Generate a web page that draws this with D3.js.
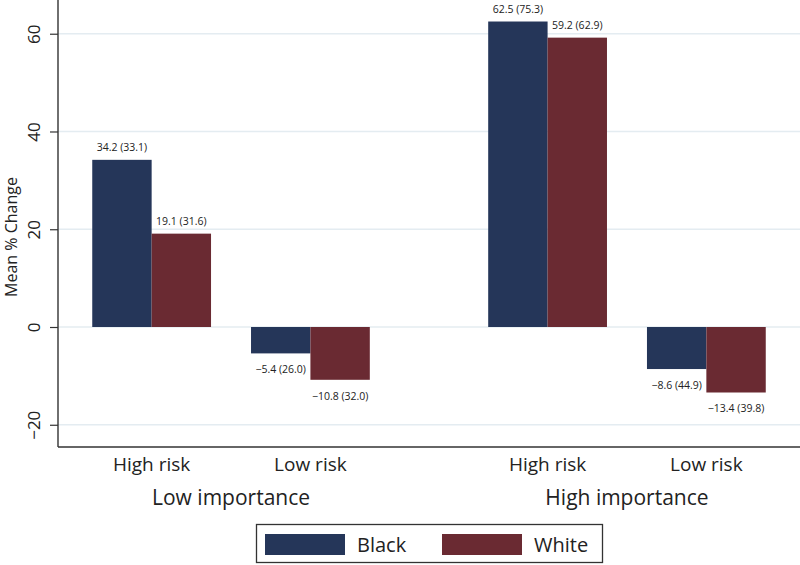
<!DOCTYPE html>
<html>
<head>
<meta charset="utf-8">
<script src="https://cdn.jsdelivr.net/npm/d3@7"></script>
<style>
  html, body { margin: 0; padding: 0; background: #fff; }
  svg { display: block; font-family: "Open Sans", "Noto Sans", sans-serif; }
</style>
</head>
<body>
<svg id="chart" width="800" height="565"></svg>
<script>
// ---- data ----
const groups = ["Low importance", "High importance"];
const risks = ["High risk", "Low risk"];
const races = ["Black", "White"];
const blackMeans = [34.2, -5.4, 62.5, -8.6];
const whiteMeans = [19.1, -10.8, 59.2, -13.4];
const blackSD = ["33.1", "26.0", "75.3", "44.9"];
const whiteSD = ["31.6", "32.0", "62.9", "39.8"];
const yTicks = [-20, 0, 20, 40, 60];
const colors = { Black: "#253659", White: "#6a2a32" };

// build records
const records = [];
groups.forEach((g, gi) => {
  risks.forEach((r, ri) => {
    const i = gi * risks.length + ri;
    records.push({ group: g, risk: r, race: "Black", value: blackMeans[i], sd: blackSD[i] });
    records.push({ group: g, risk: r, race: "White", value: whiteMeans[i], sd: whiteSD[i] });
  });
});

const svg = d3.select("#chart");
const pLeft = 58, pRight = 800, pTop = 0, pBottom = 447;

const y = d3.scaleLinear().domain([-24.55, 66.9]).range([pBottom, pTop]);
const xGroup = d3.scalePoint().domain(groups).range([pLeft, pRight]).padding(0.437);
const step = xGroup.step();
const xRisk = d3.scalePoint().domain(risks).range([-step * 0.2005, step * 0.2005]);
const xRace = d3.scaleBand().domain(races).range([-step * 0.15, step * 0.15]).padding(0);

// gridlines
svg.append("g")
  .selectAll("line")
  .data(yTicks)
  .join("line")
  .attr("x1", pLeft).attr("x2", pRight)
  .attr("y1", d => y(d)).attr("y2", d => y(d))
  .attr("stroke", "#e4ecf1").attr("stroke-width", 1.5);

// bars
const xPos = d => xGroup(d.group) + xRisk(d.risk) + xRace(d.race);
svg.append("g")
  .selectAll("rect")
  .data(records)
  .join("rect")
  .attr("x", d => xPos(d))
  .attr("width", xRace.bandwidth())
  .attr("y", d => y(Math.max(0, d.value)))
  .attr("height", d => Math.abs(y(d.value) - y(0)))
  .attr("fill", d => colors[d.race]);

// value labels
const fmt = v => (v < 0 ? "\u2212" : "") + Math.abs(v).toFixed(1);
svg.append("g")
  .selectAll("text")
  .data(records)
  .join("text")
  .attr("x", d => xPos(d) + xRace.bandwidth() / 2)
  .attr("y", d => d.value >= 0 ? y(d.value) - 9 : y(d.value) + 20)
  .attr("text-anchor", "middle")
  .attr("font-size", 10.5)
  .attr("fill", "#222")
  .text(d => `${fmt(d.value)} (${d.sd})`);

// y axis
const yAxis = d3.axisLeft(y).tickValues(yTicks).tickSize(8).tickPadding(10)
  .tickFormat(d => (d < 0 ? "\u2212" : "") + Math.abs(d));
const ya = svg.append("g").attr("transform", `translate(${pLeft},0)`).call(yAxis);
ya.select(".domain").attr("d", `M0,${pTop}V${pBottom}`).attr("stroke", "#333").attr("stroke-width", 1.4);
ya.selectAll(".tick line").attr("stroke", "#333").attr("stroke-width", 1.2);
ya.selectAll(".tick text")
  .attr("font-size", 17).attr("font-family", "'Open Sans', sans-serif").attr("fill", "#222")
  .attr("transform", "rotate(-90)")
  .attr("x", 0).attr("y", -18)
  .attr("dy", 0)
  .attr("text-anchor", "middle");

// x axis line
svg.append("line")
  .attr("x1", pLeft).attr("x2", pRight)
  .attr("y1", pBottom).attr("y2", pBottom)
  .attr("stroke", "#333").attr("stroke-width", 1.6);

// risk labels
const riskLabels = [];
groups.forEach(g => risks.forEach(r => riskLabels.push({ group: g, risk: r })));
svg.append("g")
  .selectAll("text")
  .data(riskLabels)
  .join("text")
  .attr("x", d => xGroup(d.group) + xRisk(d.risk))
  .attr("y", 471)
  .attr("text-anchor", "middle")
  .attr("font-size", 19)
  .attr("fill", "#222")
  .text(d => d.risk);

// group labels
svg.append("g")
  .selectAll("text")
  .data(groups)
  .join("text")
  .attr("x", d => xGroup(d))
  .attr("y", 505)
  .attr("text-anchor", "middle")
  .attr("font-size", 21)
  .attr("fill", "#222")
  .text(d => d);

// y title
svg.append("text")
  .attr("transform", "translate(17,237) rotate(-90)")
  .attr("text-anchor", "middle")
  .attr("font-size", 16)
  .attr("fill", "#222")
  .text("Mean % Change");

// legend
const lg = svg.append("g");
lg.append("rect")
  .attr("x", 256.5).attr("y", 524.5).attr("width", 346).attr("height", 38)
  .attr("fill", "#fff").attr("stroke", "#333").attr("stroke-width", 1.3);
const legendX = d3.scalePoint().domain(races).range([265, 442]);
const items = lg.selectAll("g.item").data(races).join("g").attr("class", "item")
  .attr("transform", d => `translate(${legendX(d)},534)`);
items.append("rect").attr("width", 80).attr("height", 21).attr("fill", d => colors[d]);
items.append("text").attr("x", 92).attr("y", 18).attr("font-size", 20).attr("fill", "#222").text(d => d);
</script>
</body>
</html>
